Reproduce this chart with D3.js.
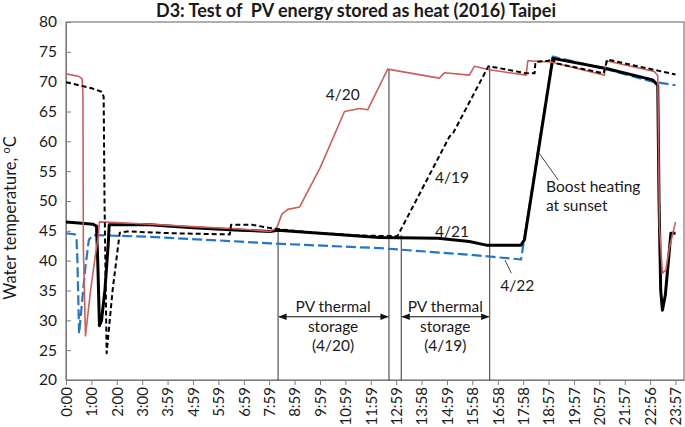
<!DOCTYPE html>
<html><head><meta charset="utf-8">
<script src="https://cdn.jsdelivr.net/npm/d3@7/dist/d3.min.js"></script>
<style>
body{margin:0;background:#fff}
svg{display:block}
text{font-family:Lato,"Open Sans",sans-serif;fill:#1a1a1a}
</style>
</head><body>
<svg id="chart" width="685" height="427"></svg>
<script>
// ---------- data (x = sample index, ~1 min per sample; y = °C) ----------
const timeLabels = ["0:00","1:00","2:00","3:00","3:59","4:59","5:59","6:59","7:59","8:59","9:59","10:59","11:59","12:59","13:58","14:59","15:58","16:58","17:58","18:57","19:57","20:57","21:57","22:56","23:57"];
const yTicks = [20,25,30,35,40,45,50,55,60,65,70,75,80];

const day0420 = [[0,71.3],[30,70.9],[38,70.5],[40,68],[41,42],[46,27.4],[58,35],[70,41.2],[76,44],[79,46.5],[120,46.4],[198,46.1],[300,45.7],[411,45.3],[482,44.9],[498,45.5],[510,47.8],[524,48.6],[552,49.0],[600,55.5],[658,65.0],[694,65.5],[713,65.3],[760,72.1],[800,71.6],[882,70.6],[894,71.5],[953,71.1],[965,72.6],[1000,72.0],[1048,71.5],[1087,71.1],[1091,73.5],[1146,73.3],[1150,73.2],[1272,71.1],[1276,73.5],[1390,71.7],[1398,71.0],[1402,45.8],[1409,37.9],[1417,38.4],[1425,42],[1440,46.5]];
const day0421 = [[0,46.5],[30,46.3],[64,46.1],[72,45.8],[75,40],[79,29.1],[84,30],[92,35.1],[100,43],[102,46.0],[198,46.0],[300,45.5],[411,45.1],[482,44.9],[500,45.1],[600,44.6],[741,43.9],[879,43.75],[953,43.2],[993,42.6],[1075,42.6],[1083,43.5],[1150,73.9],[1276,72.2],[1386,70.3],[1398,69.4],[1401,50],[1405,35],[1409,31.7],[1416,34.3],[1429,44.6],[1440,44.6]];
const day0419 = [[0,69.9],[61,68.9],[84,68.3],[89,67.5],[91,50],[96,24.5],[110,35],[127,44.7],[144,44.9],[250,44.6],[387,44.4],[390,46.0],[441,46.0],[470,45.6],[498,45.3],[600,44.6],[700,44.2],[783,44.1],[906,60.8],[914,61.3],[998,72.6],[1043,72.0],[1087,71.4],[1107,71.4],[1109,73.3],[1140,73.5],[1150,74.0],[1156,73.1],[1270,71.4],[1279,73.7],[1440,71.2]];
const day0422 = [[0,44.6],[21,44.4],[25,43.5],[27,40],[31,27.8],[45,38.4],[54,43.5],[64,44.3],[198,44.0],[411,43.2],[482,42.9],[741,42.1],[953,41.0],[1075,40.2],[1150,74.2],[1276,72.1],[1386,70.0],[1440,69.4]];

// markers: [index, top temperature]
const markerLines = [[501,45.3],[763,72.1],[792,44.3],[1001,72.6]];
// arrows: [from index, to index, temperature]
const arrows = [[501,763,30.6],[792,1001,30.6]];
// text blocks: [index, temperature, lines]
const pvNotes = [[631,32.3,["PV thermal","storage","(4/20)"]],[896,32.3,["PV thermal","storage","(4/19)"]]];
const dayLabels = [["4/20",654,67.8],["4/19",912,54.0],["4/21",912,44.8],["4/22",1066,35.8]];
const leaders = [[1037,40.1,1052,37.9],[1118,58.0,1163,53.5]];
const boostText = [["Boost heating",1134,52.5],["at sunset",1134,49.3]];

// ---------- chart ----------
const svg = d3.select("#chart");
const L=66, R=684, T=22, B=380;
const x = d3.scaleLinear().domain([0,1460]).range([L,R]);
const y = d3.scaleLinear().domain([20,80]).range([B,T]);

svg.append("defs").append("marker").attr("id","ah").attr("viewBox","0 0 10 10")
  .attr("refX",9).attr("refY",5).attr("markerWidth",7).attr("markerHeight",7).attr("orient","auto-start-reverse")
  .append("path").attr("d","M0,1L10,5L0,9Z").attr("fill","#111");

// title
svg.append("text").attr("x",356).attr("y",17).attr("text-anchor","middle")
  .style("font-weight","bold").style("font-size","18px").text("D3: Test of \u00a0PV energy stored as heat (2016) Taipei");

// frame
svg.append("rect").attr("x",L).attr("y",T).attr("width",R-L).attr("height",B-T)
  .attr("fill","none").attr("stroke","#7a7a7a").attr("stroke-width",1.2);

// y axis
const ya = svg.append("g").attr("transform",`translate(${L},0)`)
  .call(d3.axisLeft(y).tickValues(yTicks).tickSizeInner(-5).tickSizeOuter(0).tickPadding(9));
ya.select(".domain").attr("stroke","#7a7a7a");
ya.selectAll(".tick line").attr("stroke","#7a7a7a");
ya.selectAll(".tick text").style("font-size","15.5px").attr("fill","#1a1a1a").style("font-family","Lato, sans-serif");

// x axis
const xa = svg.append("g").attr("transform",`translate(0,${B})`)
  .call(d3.axisBottom(x).tickValues(timeLabels.map((d,i)=>i*60)).tickFormat((d,i)=>timeLabels[i]).tickSizeInner(5).tickSizeOuter(0));
xa.select(".domain").attr("stroke","#7a7a7a");
xa.selectAll(".tick line").attr("stroke","#7a7a7a");
xa.selectAll(".tick text").style("font-size","15px").attr("fill","#1a1a1a").style("font-family","Lato, sans-serif")
  .attr("transform","rotate(-90)").attr("text-anchor","end").attr("x",-7).attr("y",0).attr("dy","0.35em");

// y axis title
const yt = svg.append("text").attr("transform","translate(16,218) rotate(-90)").attr("text-anchor","middle")
  .style("font-size","16.5px");
yt.append("tspan").text("Water temperature, ");
yt.append("tspan").text("o").attr("dy","-6").style("font-size","11px");
yt.append("tspan").text("C").attr("dy","6");

// marker lines
svg.selectAll(".mk").data(markerLines).join("line")
  .attr("x1",d=>x(d[0])).attr("x2",d=>x(d[0])).attr("y1",d=>y(d[1])).attr("y2",B)
  .attr("stroke","#333").attr("stroke-width",1);

// series
const line = d3.line().x(d=>x(d[0])).y(d=>y(d[1]));
const seriesDefs = [
  {d:day0422, c:"#2277c8", w:2.2, dash:"10,4"},
  {d:day0421, c:"#000", w:3, dash:null},
  {d:day0420, c:"#cc5e5b", w:1.6, dash:null},
  {d:day0419, c:"#000", w:2, dash:"5,3"}
];
seriesDefs.forEach(s=>{
  svg.append("path").attr("d",line(s.d)).attr("fill","none").attr("stroke",s.c)
    .attr("stroke-width",s.w).attr("stroke-dasharray",s.dash).attr("stroke-linejoin","round");
});

// arrows
svg.selectAll(".ar").data(arrows).join("line")
  .attr("x1",d=>x(d[0])+1).attr("x2",d=>x(d[1])-1).attr("y1",d=>y(d[2])).attr("y2",d=>y(d[2]))
  .attr("stroke","#111").attr("stroke-width",1.2)
  .attr("marker-start","url(#ah)").attr("marker-end","url(#ah)");

// PV notes
pvNotes.forEach(n=>{
  n[2].forEach((t,i)=>{
    svg.append("text").attr("x",x(n[0])).attr("y",y(n[1])+i*19.5).attr("dy","0.35em")
      .attr("text-anchor","middle").style("font-size","15.5px").text(t);
  });
});

// day labels
svg.selectAll(".dl").data(dayLabels).join("text")
  .attr("x",d=>x(d[1])).attr("y",d=>y(d[2])).attr("dy","0.35em").attr("text-anchor","middle")
  .style("font-size","15.5px").text(d=>d[0]);

// leaders
svg.selectAll(".ld").data(leaders).join("line")
  .attr("x1",d=>x(d[0])).attr("y1",d=>y(d[1])).attr("x2",d=>x(d[2])).attr("y2",d=>y(d[3]))
  .attr("stroke","#444").attr("stroke-width",1);

svg.selectAll(".bt").data(boostText).join("text")
  .attr("x",d=>x(d[1])).attr("y",d=>y(d[2])).attr("dy","0.35em")
  .style("font-size","15.5px").text(d=>d[0]);
</script>
</body></html>
